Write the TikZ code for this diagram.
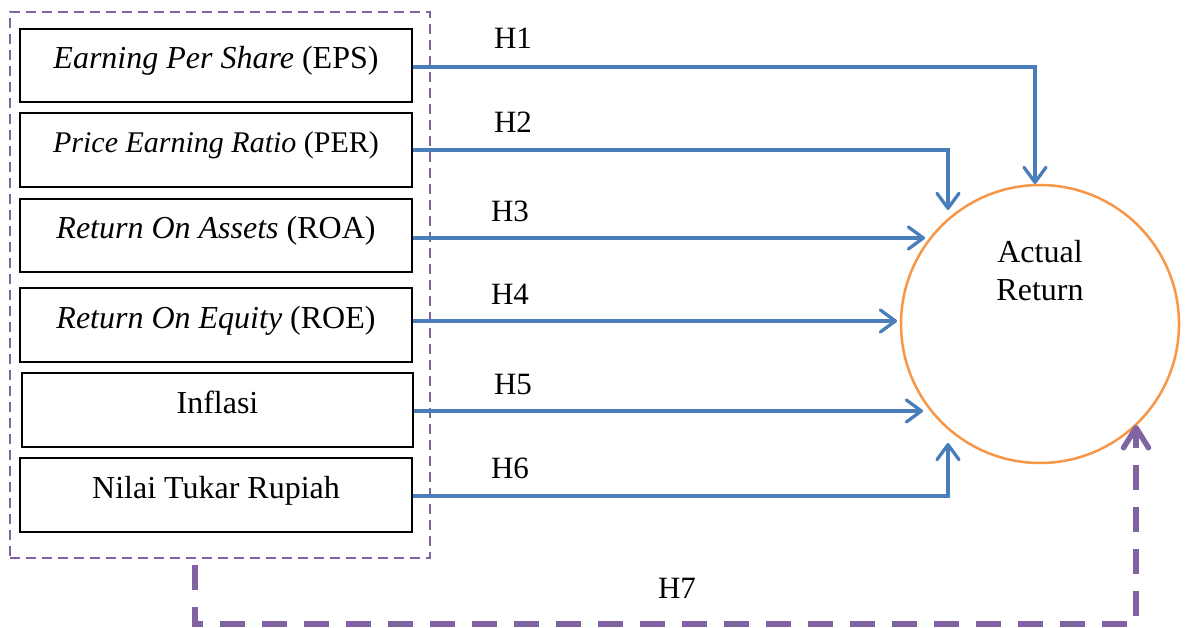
\documentclass[tikz,border=0pt]{standalone}
\usepackage{fontspec}
\setmainfont{Liberation Serif}
\usetikzlibrary{arrows.meta}
\definecolor{lineblue}{RGB}{74,126,187}
\definecolor{grpurple}{RGB}{128,100,162}
\definecolor{circorange}{RGB}{247,150,70}
\tikzset{
  varbox/.style={draw=black, line width=2.5pt, minimum width=392pt, inner sep=0pt,
    text height=40pt, text depth=33pt, font=\fontsize{32}{39}\selectfont},
  hlabel/.style={anchor=base, inner sep=0pt, font=\fontsize{31}{39}\selectfont},
  hyp/.style={draw=lineblue, line width=3.3pt,
    -{Straight Barb[length=15pt,width=22pt,round]}},
  grpbox/.style={draw=grpurple, line width=2.5pt, dash pattern=on 10pt off 6pt,
    minimum width=420pt, minimum height=546pt, inner sep=0pt},
  joint/.style={draw=grpurple, line width=5.5pt, dash pattern=on 25pt off 17pt,
    -{Straight Barb[length=20pt,width=25pt,round]}},
}
\begin{document}
\begin{tikzpicture}[x=1pt,y=-1pt]
\useasboundingbox (0,0) rectangle (1186,628);
% group of independent variables
\node[grpbox] (grp) at (220,285) {};
% variable boxes
\node[varbox] (b1) at (216,65.5) {\textit{Earning Per Share} (EPS)};
\node[varbox, font=\fontsize{30}{36}\selectfont, minimum height=74pt, text depth=34pt] (b2) at (216,150) {\textit{Price Earning Ratio} (PER)};
\node[varbox] (b3) at (216,235.5) {\textit{Return On Assets} (ROA)};
\node[varbox, minimum height=74pt, text depth=34pt] (b4) at (216,325) {\textit{Return On Equity} (ROE)};
\node[varbox, minimum width=391pt, minimum height=74pt, text depth=34pt] (b5) at (217.5,410) {Inflasi};
\node[varbox, minimum height=74pt, text depth=34pt] (b6) at (216,495) {Nilai Tukar Rupiah};
% dependent variable
\node[draw=circorange, line width=2.5pt, circle, minimum size=278pt, inner sep=0pt] (c) at (1040,324) {};
\node[font=\fontsize{32}{39}\selectfont, align=center, anchor=base, inner sep=0pt] (ct) at (1040,301) {Actual\\[-1pt]Return};
% arrow end points
\coordinate (t1) at (1035,184);
\coordinate (t2) at (948,210);
\coordinate (t3) at (925,238);
\coordinate (t4) at (897,321);
\coordinate (t5) at (923,411);
\coordinate (t6) at (948,443);
\coordinate (s7) at (195,565);
\coordinate (k7) at (1136,624);
\coordinate (t7) at (1136,425);
% hypotheses
\draw[hyp] ([yshift=-1.5pt]b1.east) -| (t1);
\draw[hyp] (b2.east) -| (t2);
\draw[hyp] ([yshift=-2.5pt]b3.east) -- (t3);
\draw[hyp] ([yshift=4pt]b4.east) -- (t4);
\draw[hyp] ([yshift=-1pt]b5.east) -- (t5);
\draw[hyp] ([yshift=-1pt]b6.east) -| (t6);
\draw[joint] (s7) |- (k7) -- (t7);
% labels
\node[hlabel] (h1) at (513,49) {H1};
\node[hlabel] (h2) at (513,133) {H2};
\node[hlabel] (h3) at (510,222) {H3};
\node[hlabel] (h4) at (510,305) {H4};
\node[hlabel] (h5) at (513,394) {H5};
\node[hlabel] (h6) at (510,478) {H6};
\node[hlabel] (h7) at (677,598) {H7};
\end{tikzpicture}
\end{document}
